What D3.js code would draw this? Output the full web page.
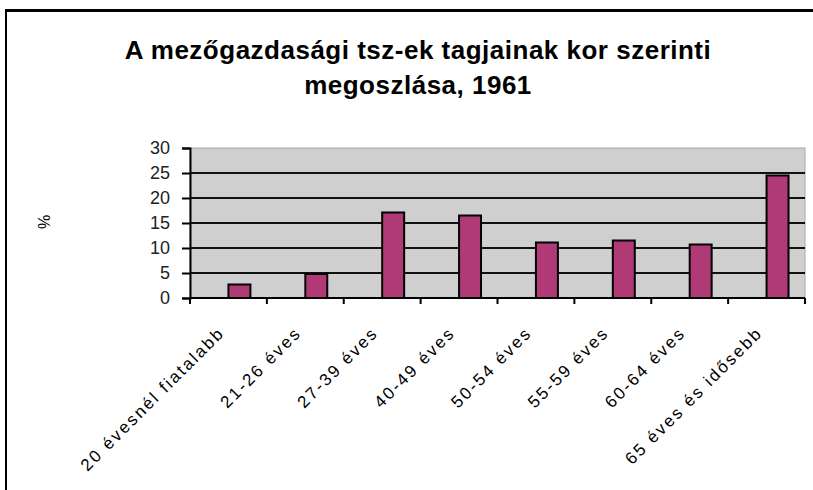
<!DOCTYPE html>
<html>
<head>
<meta charset="utf-8">
<script src="https://cdn.jsdelivr.net/npm/d3@7/dist/d3.min.js"></script>
<style>
  html, body { margin: 0; padding: 0; background: #fff; }
  svg { display: block; font-family: Arial, "Liberation Sans", sans-serif; }
</style>
</head>
<body>
<svg id="chart" width="813" height="490"></svg>
<script>
// ========= Data =========
const categories = [
  "20 évesnél fiatalabb", "21-26 éves", "27-39 éves", "40-49 éves",
  "50-54 éves", "55-59 éves", "60-64 éves", "65 éves és idősebb"
];
const values = [2.7, 4.8, 17.1, 16.5, 11.1, 11.5, 10.7, 24.5];
const yTicks = [0, 5, 10, 15, 20, 25, 30];
const titleLines = ["A mezőgazdasági tsz-ek tagjainak kor szerinti", "megoszlása, 1961"];

// ========= Layout =========
const svg = d3.select("#chart");
const plot = { left: 190, right: 805, top: 148, bottom: 298 };

// chart frame (only top and left edges visible in the source)
svg.append("line").attr("x1", 5).attr("x2", 813).attr("y1", 10.5).attr("y2", 10.5)
  .attr("stroke", "#000").attr("stroke-width", 3);
svg.append("line").attr("x1", 6).attr("x2", 6).attr("y1", 9).attr("y2", 490)
  .attr("stroke", "#000").attr("stroke-width", 2);

// title
svg.append("g").selectAll("text")
  .data(titleLines)
  .join("text")
  .attr("x", 418)
  .attr("y", (d, i) => 59 + i * 35)
  .attr("text-anchor", "middle")
  .attr("font-size", 26)
  .attr("font-weight", "bold")
  .attr("letter-spacing", 0.5)
  .attr("fill", "#000")
  .text(d => d);

// ========= Scales =========
const x = d3.scaleBand().domain(categories).range([plot.left, plot.right]);
// Excel-style cluster: an empty slot before the visible series
const xs = d3.scaleBand().domain(["empty", "pct"])
  .range([0, x.bandwidth()]).paddingOuter(0.75);
const y = d3.scaleLinear().domain([0, 30]).range([plot.bottom, plot.top]);

// plot background
svg.append("rect")
  .attr("x", plot.left).attr("y", plot.top)
  .attr("width", plot.right - plot.left).attr("height", plot.bottom - plot.top)
  .attr("fill", "#cfcfcf").attr("stroke", "#a8a8a8").attr("stroke-width", 1);

// gridlines
svg.append("g").selectAll("line")
  .data(yTicks.filter(t => t > 0 && t < 30))
  .join("line")
  .attr("x1", plot.left).attr("x2", plot.right)
  .attr("y1", d => y(d)).attr("y2", d => y(d))
  .attr("stroke", "#111").attr("stroke-width", 2);

// bars
svg.append("g").selectAll("rect")
  .data(categories.map((c, i) => ({ cat: c, value: values[i] })))
  .join("rect")
  .attr("x", d => x(d.cat) + xs("pct"))
  .attr("y", d => y(d.value))
  .attr("width", xs.bandwidth())
  .attr("height", d => y(0) - y(d.value))
  .attr("fill", "#b03a76")
  .attr("stroke", "#000")
  .attr("stroke-width", 2);

// y axis
const yAxis = svg.append("g")
  .attr("transform", `translate(${plot.left},0)`)
  .call(d3.axisLeft(y).tickValues(yTicks).tickSize(8).tickPadding(12));
yAxis.select(".domain").attr("stroke", "#000").attr("stroke-width", 2);
yAxis.selectAll(".tick line").attr("stroke", "#000").attr("stroke-width", 2);
yAxis.selectAll("text").attr("font-size", 18).attr("fill", "#222")
  .attr("font-family", "Arial, 'Liberation Sans', sans-serif");

// x axis: ticks at category boundaries
const xAxis = svg.append("g").attr("transform", `translate(0,${plot.bottom})`);
xAxis.append("line")
  .attr("x1", plot.left).attr("x2", plot.right)
  .attr("stroke", "#000").attr("stroke-width", 2);
xAxis.selectAll(".bnd")
  .data(categories.map(c => x(c)).concat([plot.right]))
  .join("line")
  .attr("class", "bnd")
  .attr("x1", d => d).attr("x2", d => d)
  .attr("y1", 0).attr("y2", 6)
  .attr("stroke", "#000").attr("stroke-width", 2);

// rotated category labels
xAxis.selectAll(".lbl")
  .data(categories)
  .join("text")
  .attr("class", "lbl")
  .attr("transform", d => `translate(${x(d) + x.bandwidth() / 2 - 3},${36}) rotate(-45)`)
  .attr("text-anchor", "end")
  .attr("font-size", 17)
  .attr("letter-spacing", 2.2)
  .attr("fill", "#000")
  .text(d => d);

// y axis label
svg.append("text")
  .attr("transform", "translate(50,222) rotate(-90)")
  .attr("text-anchor", "middle")
  .attr("font-size", 16)
  .attr("fill", "#000")
  .text("%");
</script>
</body>
</html>
